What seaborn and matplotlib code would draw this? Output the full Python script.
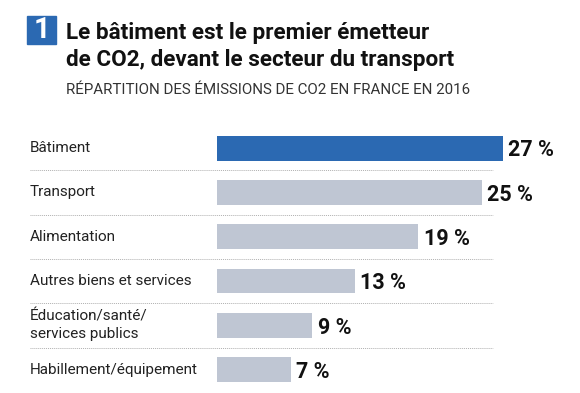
import matplotlib
matplotlib.use("Agg")
import matplotlib.pyplot as plt
import matplotlib.patches as patches
import pandas as pd
import seaborn as sns

categories = ["Bâtiment", "Transport", "Alimentation", "Autres biens et services",
              "Éducation/santé/\nservices publics", "Habillement/équipement"]
values = [27, 25, 19, 13, 9, 7]
value_labels = ["27 %", "25 %", "19 %", "13 %", "9 %", "7 %"]

title = "Le bâtiment est le premier émetteur\nde CO2, devant le secteur du transport"
subtitle = "RÉPARTITION DES ÉMISSIONS DE CO2 EN FRANCE EN 2016"

blue = "#2b69b2"
grey = "#bfc6d3"

sns.set_style("white")
plt.rcParams["font.family"] = ["Roboto", "DejaVu Sans"]

W, H = 580, 393
fig = plt.figure(figsize=(W / 100, H / 100), dpi=100)

# axes placed in pixel terms: bars start at x=217, 10.6 px per percent
left_px, right_px = 217, 560
top_px, row_px = 126, 44.3
ax = fig.add_axes([left_px / W, 1 - (top_px + 6 * row_px) / H,
                   (right_px - left_px) / W, 6 * row_px / H])

df = pd.DataFrame({"cat": categories, "val": values})
palette = [blue] + [grey] * (len(categories) - 1)
sns.barplot(data=df, x="val", y="cat", hue="cat", palette=palette, legend=False,
            orient="h", width=0.56, saturation=1, ax=ax, edgecolor="none")

ax.set_xlim(0, (right_px - left_px) / 10.6)
ax.set_ylim(5.5, -0.5)
ax.axis("off")

tr = ax.get_yaxis_transform()
x_lab = (30 - left_px) / (right_px - left_px)
x_line_end = (493 - left_px) / (right_px - left_px)
for i, (cat, v, lab) in enumerate(zip(categories, values, value_labels)):
    ax.text(x_lab, i, cat, transform=tr, ha="left", va="center",
            fontsize=11, color="#222222", linespacing=1.3)
    ax.text(v + 0.5, i + 0.05, lab, ha="left", va="center", fontsize=15.5,
            fontweight="bold", color="#111111")
    if i < len(categories) - 1:
        ax.plot([x_lab, x_line_end], [i + 0.5, i + 0.5], transform=tr,
                color="#b0b0b0", lw=0.7, ls=(0, (1, 1)), clip_on=False)

# header
fig.patches.append(patches.Rectangle((27 / W, 1 - 44 / H), 29 / W, 28 / H,
                                     transform=fig.transFigure, color=blue))
fig.text(41.5 / W, 1 - 30 / H, "1", ha="center", va="center", fontsize=21,
         fontweight="bold", color="white")
fig.text(66 / W, 1 - 33 / H, title.split("\n")[0], ha="left", va="center",
         fontsize=16.2, fontweight="bold", color="#111111")
fig.text(66 / W, 1 - 60 / H, title.split("\n")[1], ha="left", va="center",
         fontsize=16.2, fontweight="bold", color="#111111")
fig.text(66 / W, 1 - 90 / H, subtitle, ha="left", va="center", fontsize=10.9,
         color="#333333")

fig.savefig("out.png", dpi=100)
